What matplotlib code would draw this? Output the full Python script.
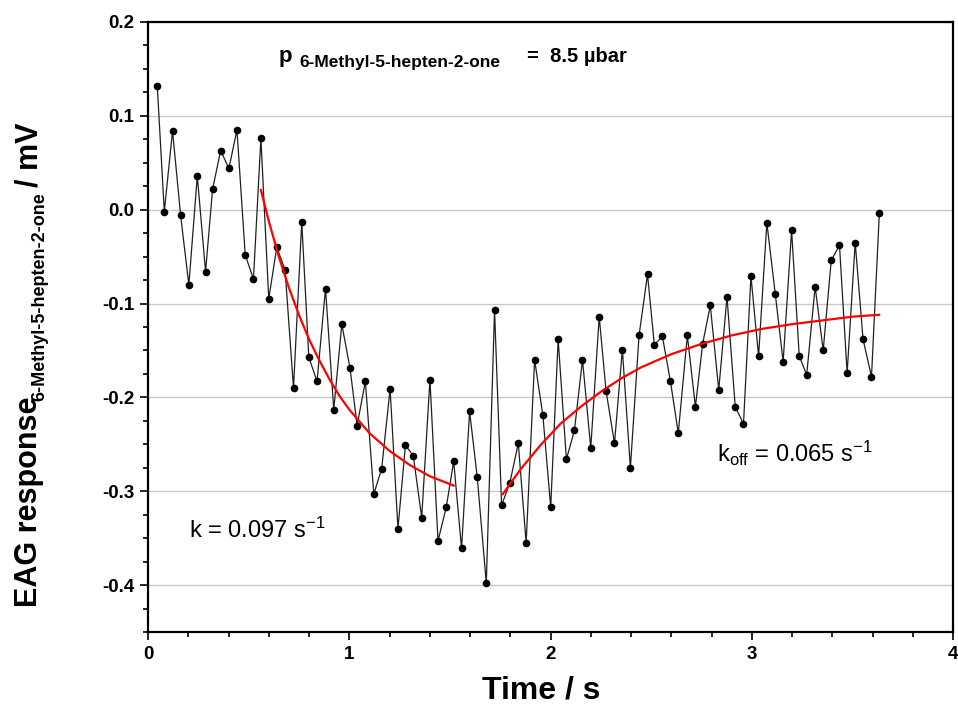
# =========================
# Imports
# =========================
import numpy as np
import matplotlib
matplotlib.use("Agg")
import matplotlib.pyplot as plt
from matplotlib.ticker import MultipleLocator, FormatStrFormatter


# =========================
# DATA
# =========================
time_s = [
    0.046, 0.081, 0.122, 0.162, 0.203, 0.245, 0.286, 0.321, 0.361, 0.402,
    0.442, 0.483, 0.524, 0.561, 0.600, 0.640, 0.681, 0.723, 0.764, 0.799,
    0.840, 0.882, 0.923, 0.963, 1.004, 1.039, 1.080, 1.122, 1.161, 1.203,
    1.242, 1.279, 1.318, 1.360, 1.401, 1.441, 1.482, 1.519, 1.558, 1.598,
    1.636, 1.681, 1.722, 1.757, 1.798, 1.840, 1.879, 1.921, 1.962, 2.001,
    2.038, 2.079, 2.119, 2.159, 2.200, 2.242, 2.276, 2.318, 2.357, 2.397,
    2.440, 2.482, 2.516, 2.556, 2.596, 2.635, 2.680, 2.720, 2.756, 2.794,
    2.836, 2.877, 2.918, 2.959, 2.996, 3.034, 3.075, 3.117, 3.156, 3.198,
    3.236, 3.273, 3.315, 3.355, 3.395, 3.436, 3.474, 3.514, 3.553, 3.595,
    3.634,
]
eag_mv = [
    0.132, -0.002, 0.084, -0.006, -0.080, 0.036, -0.066, 0.022, 0.063, 0.044,
    0.085, -0.048, -0.074, 0.076, -0.095, -0.040, -0.064, -0.190, -0.013, -0.157,
    -0.183, -0.084, -0.213, -0.122, -0.169, -0.230, -0.183, -0.303, -0.276, -0.191,
    -0.340, -0.251, -0.262, -0.328, -0.181, -0.353, -0.317, -0.268, -0.361, -0.215,
    -0.285, -0.398, -0.107, -0.315, -0.291, -0.249, -0.355, -0.160, -0.219, -0.317,
    -0.138, -0.266, -0.235, -0.160, -0.254, -0.114, -0.193, -0.249, -0.149, -0.275,
    -0.134, -0.069, -0.144, -0.135, -0.183, -0.238, -0.134, -0.210, -0.143, -0.102,
    -0.192, -0.093, -0.210, -0.228, -0.071, -0.156, -0.014, -0.090, -0.162, -0.022,
    -0.156, -0.176, -0.082, -0.150, -0.054, -0.038, -0.174, -0.035, -0.138, -0.178,
    -0.004,
]

# exponential fits (traced points along the red curves)
fit_on_t = [0.561, 0.600, 0.650, 0.700, 0.750, 0.800, 0.850, 0.900, 0.950, 1.000,
            1.100, 1.200, 1.300, 1.400, 1.519]
fit_on_y = [0.021, -0.012, -0.050, -0.083, -0.112, -0.138, -0.160, -0.180, -0.198, -0.213,
            -0.238, -0.257, -0.272, -0.284, -0.294]

fit_off_t = [1.763, 1.850, 1.950, 2.050, 2.150, 2.250, 2.350, 2.450, 2.600, 2.750,
             2.900, 3.050, 3.200, 3.350, 3.500, 3.633]
fit_off_y = [-0.303, -0.277, -0.251, -0.228, -0.210, -0.194, -0.180, -0.168, -0.154, -0.143,
             -0.134, -0.127, -0.122, -0.118, -0.114, -0.112]

y_ticks = [-0.4, -0.3, -0.2, -0.1, 0.0, 0.1, 0.2]


# =========================
# STYLE
# =========================
plt.rcParams["font.family"] = ["Liberation Sans", "DejaVu Sans"]
plt.rcParams["mathtext.fontset"] = "custom"
plt.rcParams["mathtext.rm"] = "Liberation Sans"
plt.rcParams["mathtext.sf"] = "Liberation Sans"
plt.rcParams["mathtext.it"] = "Liberation Sans:italic"
plt.rcParams["mathtext.bf"] = "Liberation Sans:bold"
plt.rcParams["axes.unicode_minus"] = False


def px(x_pix, y_pix):
    # figure pixel (from top-left) -> figure fraction
    return x_pix / 958, 1 - y_pix / 711


# =========================
# PLOT
# =========================
fig = plt.figure(figsize=(9.58, 7.11), dpi=100)
ax = fig.add_axes([148 / 958, 1 - 632 / 711, 805 / 958, 610 / 711])

ax.set_xlim(0, 4)
ax.set_ylim(-0.45, 0.2)

for y in y_ticks:
    ax.axhline(y, color="#c8c8c8", lw=1.0, zorder=0)

ax.plot(time_s, eag_mv, color="#202020", lw=0.9, marker="o", ms=4.5,
        mfc="black", mec="black", zorder=2)
ax.plot(fit_on_t, fit_on_y, color="red", lw=1.6, zorder=3)
ax.plot(fit_off_t, fit_off_y, color="red", lw=1.6, zorder=3)

ax.xaxis.set_major_locator(MultipleLocator(1))
ax.xaxis.set_minor_locator(MultipleLocator(0.2))
ax.set_yticks(y_ticks)
ax.yaxis.set_minor_locator(MultipleLocator(0.025))
ax.yaxis.set_major_formatter(FormatStrFormatter("%.1f"))
ax.xaxis.set_major_formatter(FormatStrFormatter("%d"))

ax.tick_params(which="both", direction="out", width=1.2, top=False, right=False)
ax.tick_params(which="major", length=6, labelsize=13.5, pad=4)
ax.tick_params(which="minor", length=3.5)
for lab in ax.get_xticklabels() + ax.get_yticklabels():
    lab.set_fontweight("bold")

for sp in ax.spines.values():
    sp.set_linewidth(1.6)

ax.set_xlabel("Time / s", fontsize=23, fontweight="bold")
ax.xaxis.set_label_coords(0.488, -0.072)

# y label built from pieces so the subscript sits like in the original
ylab = dict(rotation=90, rotation_mode="anchor", ha="left", va="baseline",
            fontweight="bold")
fig.text(*px(37, 607), "EAG response", fontsize=22, **ylab)
fig.text(*px(44, 401), "6-Methyl-5-hepten-2-one", fontsize=13, **ylab)
fig.text(*px(37, 187), "/ mV", fontsize=22, **ylab)

# partial pressure annotation
ax.text(0.651, 0.157, "p", fontsize=16, fontweight="bold", ha="left", va="baseline")
ax.text(0.750, 0.152, "6-Methyl-5-hepten-2-one", fontsize=12.5, fontweight="bold",
        ha="left", va="baseline")
ax.text(1.883, 0.157, "=  8.5 µbar", fontsize=14.5, fontweight="bold",
        ha="left", va="baseline")

# rate constants
ax.text(0.203, -0.350, r"k = 0.097 s$^{\mathrm{-1}}$", fontsize=17,
        ha="left", va="baseline")
ax.text(2.829, -0.269, r"k$_{\mathrm{off}}$ = 0.065 s$^{\mathrm{-1}}$", fontsize=17,
        ha="left", va="baseline")

fig.savefig("out.png", dpi=100, facecolor="white")
